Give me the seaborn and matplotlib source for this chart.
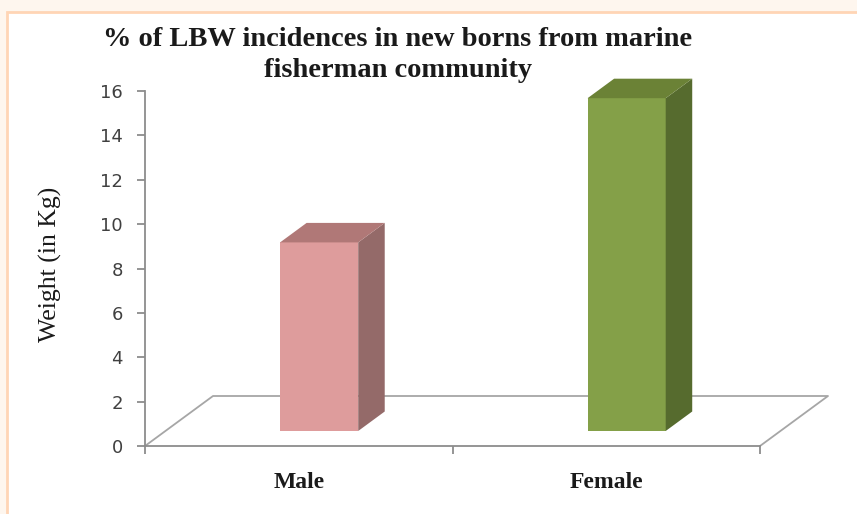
import matplotlib
matplotlib.use("Agg")
import matplotlib.pyplot as plt
import seaborn as sns
import pandas as pd
from matplotlib.patches import Polygon, Rectangle
from matplotlib.lines import Line2D

# ---- data ----
categories = ["Male", "Female"]
values = [8.5, 15.0]
yticks = [0, 2, 4, 6, 8, 10, 12, 14, 16]
title_text = "% of LBW incidences in new borns from marine\nfisherman community"
ylabel_text = "Weight (in Kg)"

front_colors = ["#DE9C9C", "#84A048"]
side_colors = ["#946A69", "#566B2E"]
top_colors = ["#B07877", "#6B8236"]

sns.set_theme(style="ticks")
plt.rcParams['font.family'] = ['DejaVu Sans']

W, H = 857, 514
fig = plt.figure(figsize=(W / 100, H / 100), dpi=100)
fig.patch.set_facecolor("#FEF6EE")
fig.add_artist(Rectangle((7 / W, -0.2), 1.2, 0.2 + (H - 12) / H, transform=fig.transFigure,
                         facecolor="white", edgecolor="#FFD5B5", lw=2, zorder=0))

ax_left, ax_right, ax_top, ax_bot = 145, 760, 91, 446
ax = fig.add_axes([ax_left / W, (H - ax_bot) / H, (ax_right - ax_left) / W, (ax_bot - ax_top) / H])
ax.set_facecolor("none")

df = pd.DataFrame({"Gender": categories, "Value": values})
sns.barplot(data=df, x="Gender", y="Value", hue="Gender", palette=front_colors,
            width=0.254, ax=ax, legend=False, saturation=1, zorder=3)
ax.set_xlim(-0.5, 1.5)
ax.set_ylim(0, 16)

# oblique depth (in data units)
px_x = (ax_right - ax_left) / 2.0
px_y = (ax_bot - ax_top) / 16.0
DX = 68 / px_x
DY = 50 / px_y
f_front = 0.30
f_depth = 0.39

# floor
floor = [(-0.5, 0), (-0.5 + DX, DY), (1.5 + DX, DY), (1.5, 0)]
ax.add_line(Line2D([p[0] for p in floor], [p[1] for p in floor], color="#A6A6A6", lw=1.3,
                   zorder=1, clip_on=False))

for i, p in enumerate(ax.patches):
    x = p.get_x() + f_front * DX
    y0 = p.get_y() + f_front * DY
    w = p.get_width()
    h = p.get_height()
    p.set_x(x)
    p.set_y(y0)
    p.set_clip_on(False)
    p.set_edgecolor("none")
    x1 = x + w
    y1 = y0 + h
    bdx, bdy = f_depth * DX, f_depth * DY
    side = Polygon([(x1, y0), (x1 + bdx, y0 + bdy), (x1 + bdx, y1 + bdy), (x1, y1)],
                   closed=True, facecolor=side_colors[i], edgecolor="none", zorder=3, clip_on=False)
    top = Polygon([(x, y1), (x + bdx, y1 + bdy), (x1 + bdx, y1 + bdy), (x1, y1)],
                  closed=True, facecolor=top_colors[i], edgecolor="none", zorder=3, clip_on=False)
    ax.add_patch(side)
    ax.add_patch(top)

for s in ["top", "right"]:
    ax.spines[s].set_visible(False)
for s in ["left", "bottom"]:
    ax.spines[s].set_color("#8C8C8C")
    ax.spines[s].set_linewidth(1.3)

ax.set_yticks(yticks)
ax.set_yticklabels([str(v) for v in yticks])
ax.tick_params(axis="y", direction="out", length=6, width=1.3, color="#8C8C8C", pad=10,
               labelsize=13, labelcolor="#404040", left=True)
ax.set_xticks([-0.5, 0.5, 1.5], minor=True)
ax.tick_params(axis="x", which="minor", direction="out", length=6, width=1.3, color="#8C8C8C", bottom=True)
ax.tick_params(axis="x", which="major", length=0, pad=19)
ax.set_xticks([0, 1])
ax.set_xticklabels(categories, fontsize=17, fontweight="bold", family="Liberation Serif", color="#1a1a1a")
ax.set_xlabel("")
ax.set_ylabel("")

fig.text(50 / W, (H - 264) / H, ylabel_text, rotation=90, ha="center", va="center",
         fontsize=18.5, family="Liberation Serif", color="#1a1a1a")
fig.text(398 / W, (H - 55) / H, title_text, ha="center", va="center", fontsize=20.5,
         fontweight="bold", family="Liberation Serif", color="#1a1a1a", linespacing=1.3)

fig.savefig("out.png", dpi=100, facecolor=fig.get_facecolor())
